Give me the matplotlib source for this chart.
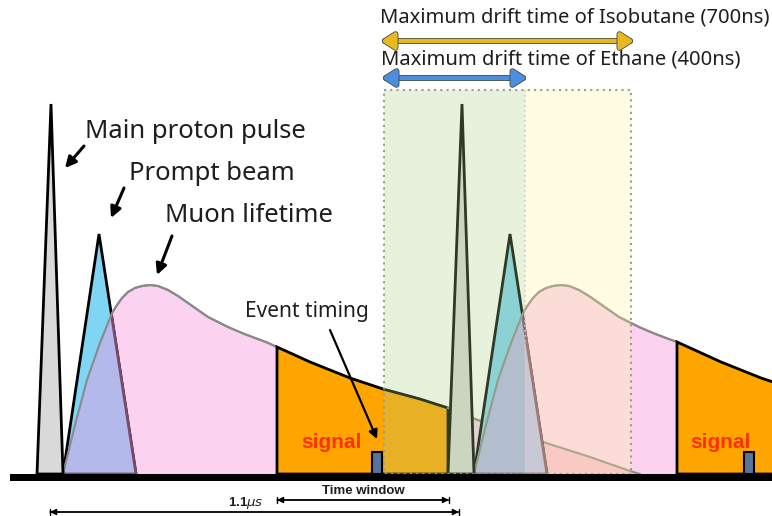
import numpy as np
import matplotlib.pyplot as plt
from matplotlib.patches import Polygon, Rectangle, FancyArrowPatch
import matplotlib.patheffects as pe

# shapes, in pixels (x right, y down), baseline at 474
base_y = 474
period = 411
proton_x = [37, 51, 63]
proton_y = [474, 104, 474]
prompt_x = [63, 99, 136]
prompt_y = [474, 234, 474]
muon_x = [63, 75, 87, 100, 112, 117, 122, 128, 135, 142, 150, 158, 168, 178, 188, 198,
          208, 218, 228, 242, 255, 266, 277, 310, 350, 383, 420, 448, 475, 510, 543,
          590, 630, 640]
muon_y = [474, 425, 380, 343, 313, 305, 298, 292, 288, 286, 285, 286, 290, 296, 303, 310,
          317, 322, 327, 333, 338, 342, 347, 362, 378, 389, 399, 408, 419, 431, 442,
          457, 471, 474]
window_x = [(277, 448), (677, 800)]
signal_x = [372, 744]
signal_top = 452
ethane_x = (384, 525)
isobutane_x = (384, 631)
drift_top = 90

fig = plt.figure(figsize=(7.72, 5.16), dpi=100)
ax = fig.add_axes([0, 0, 1, 1])
ax.set_xlim(0, 772)
ax.set_ylim(516, 0)
ax.axis('off')

label_font = ['Noto Sans', 'DejaVu Sans']
pink = '#fbd3f0'
curve_edge = '#8a8a8a'


def poly(xs, ys, **kw):
    p = Polygon(np.column_stack([xs, ys]), closed=True, **kw)
    ax.add_patch(p)
    return p


def window(x0, x1, off):
    mx = np.array(muon_x) + off
    my = np.array(muon_y)
    inner = (mx > x0) & (mx < x1)
    xs = [x0, x0] + list(mx[inner]) + [x1, x1]
    ys = [base_y, np.interp(x0, mx, my)] + list(my[inner]) + [np.interp(x1, mx, my), base_y]
    return xs, ys


zb = 0
for k in range(2):
    off = k * period
    mx = np.array(muon_x) + off
    my = np.array(muon_y)
    pk = poly(mx, my, facecolor=pink, edgecolor='none', zorder=zb + 1)
    ax.plot(mx, my, color=curve_edge, lw=1.5, zorder=zb + 1.5)
    if k == 1:
        # tail of the first muon curve seen through the second one
        m0x = np.array(muon_x)
        tail = poly(m0x, my, facecolor='#f8bad6', edgecolor='none', zorder=zb + 1.6)
        tail.set_clip_path(pk)
        sel = m0x >= 440
        ax.plot(m0x[sel], my[sel], color=curve_edge, lw=1.5, zorder=zb + 1.7)
    px = np.array(prompt_x) + off
    poly(px, prompt_y, facecolor='#80d4f4', edgecolor='black', lw=2, zorder=zb + 2)
    lav = poly(px, prompt_y, facecolor='#b4b9ec', edgecolor='#7a4a6a', lw=2, zorder=zb + 3)
    lav.set_clip_path(pk)
    sel = mx <= window_x[k][0] + 2
    ax.plot(mx[sel], my[sel], color=curve_edge, lw=1.5, zorder=zb + 4)
    wx, wy = window(window_x[k][0], window_x[k][1], off)
    poly(wx, wy, facecolor='#ffa500', edgecolor='black', lw=2, zorder=zb + 5)
    poly(np.array(proton_x) + off, proton_y, facecolor='#d9d9d9', edgecolor='black',
         lw=2, zorder=zb + 6)
    zb += 10

# drift time regions
ax.add_patch(Rectangle((ethane_x[0], drift_top), ethane_x[1] - ethane_x[0], base_y - drift_top,
                       facecolor='#adcd82', alpha=0.28, edgecolor='none', zorder=30))
ax.add_patch(Rectangle((ethane_x[1], drift_top), isobutane_x[1] - ethane_x[1], base_y - drift_top,
                       facecolor='#fff596', alpha=0.28, edgecolor='none', zorder=30))
ax.add_patch(Rectangle((isobutane_x[0], drift_top), isobutane_x[1] - isobutane_x[0],
                       base_y - drift_top, facecolor='none', edgecolor='#9a9a9a', lw=1.5,
                       linestyle=(0, (1, 2)), zorder=31))
ax.plot([ethane_x[1], ethane_x[1]], [drift_top, base_y], color='#c5ccc5', lw=1.2,
        linestyle=(0, (1, 2)), zorder=31)

# signal boxes
for sx in signal_x:
    ax.add_patch(Rectangle((sx, signal_top), 10, base_y - signal_top, facecolor='#5a7399',
                           edgecolor='black', lw=1.5, zorder=32))
ax.text(301, 442, 'signal', color='#ff3000', fontsize=15, fontweight='bold',
        family='Liberation Sans', ha='left', va='center', zorder=33)
ax.text(690, 443, 'signal', color='#ff3000', fontsize=15, fontweight='bold',
        family='Liberation Sans', ha='left', va='center', zorder=33)

# baseline
ax.add_patch(Rectangle((10, base_y), 762, 7, facecolor='black', edgecolor='none', zorder=35))

# labels with arrows
labels = [('Main proton pulse', 85, 131, (84, 146), (65, 168)),
          ('Prompt beam', 129, 174, (124, 188), (111, 218)),
          ('Muon lifetime', 165, 215, (172, 236), (157, 275))]
for txt, tx, ty, a0, a1 in labels:
    ax.text(tx, ty, txt, fontsize=18.5, family=label_font, color='#1e1e1e',
            ha='left', va='center', zorder=40)
    ax.annotate('', xy=a1, xytext=a0, zorder=40,
                arrowprops=dict(arrowstyle='-|>', color='black', lw=2.2,
                                mutation_scale=16, shrinkA=0, shrinkB=0))

ax.text(245, 311, 'Event timing', fontsize=15, family=label_font, color='#1e1e1e',
        ha='left', va='center', zorder=40)
ax.annotate('', xy=(377, 439), xytext=(330, 330), zorder=40,
            arrowprops=dict(arrowstyle='-|>', color='black', lw=1.6,
                            mutation_scale=13, shrinkA=0, shrinkB=0))

# drift time arrows
ax.text(380, 18, 'Maximum drift time of Isobutane (700ns)', fontsize=14.5, family=label_font,
        color='#1e1e1e', ha='left', va='center', zorder=40)
ax.text(381, 60, 'Maximum drift time of Ethane (400ns)', fontsize=14.5, family=label_font,
        color='#1e1e1e', ha='left', va='center', zorder=40)
for (x0, x1), y, col in [((381, 634), 41, '#e8b820'), ((382, 527), 78, '#4a8fe0')]:
    ar = FancyArrowPatch((x0, y), (x1, y), arrowstyle='<|-|>,head_length=0.7,head_width=0.45',
                         mutation_scale=11, lw=3, color=col, shrinkA=0, shrinkB=0, zorder=40)
    ar.set_path_effects([pe.Stroke(linewidth=4.2, foreground='#4a4a3a'), pe.Normal()])
    ax.add_patch(ar)

# time scale below the baseline
ax.text(363, 491, 'Time window', fontsize=9.5, fontweight='bold', family='Liberation Sans',
        color='#1e1e1e', ha='center', va='center', zorder=40)
ax.text(228, 503, r'1.1$\mu s$', fontsize=9.5, fontweight='bold', family='Liberation Sans',
        color='#1e1e1e', ha='left', va='center', zorder=40)
for (x0, x1), y in [((277, 449), 500), ((50, 459), 512)]:
    ax.annotate('', xy=(x1, y), xytext=(x0, y), zorder=40,
                arrowprops=dict(arrowstyle='<|-|>', color='black', lw=1,
                                mutation_scale=9, shrinkA=0, shrinkB=0))
    ax.annotate('', xy=(x1, y), xytext=(x0, y), zorder=40,
                arrowprops=dict(arrowstyle='|-|,widthA=0.25,widthB=0.25', color='black', lw=1,
                                mutation_scale=9, shrinkA=0, shrinkB=0))

fig.savefig('out.png', dpi=100)
